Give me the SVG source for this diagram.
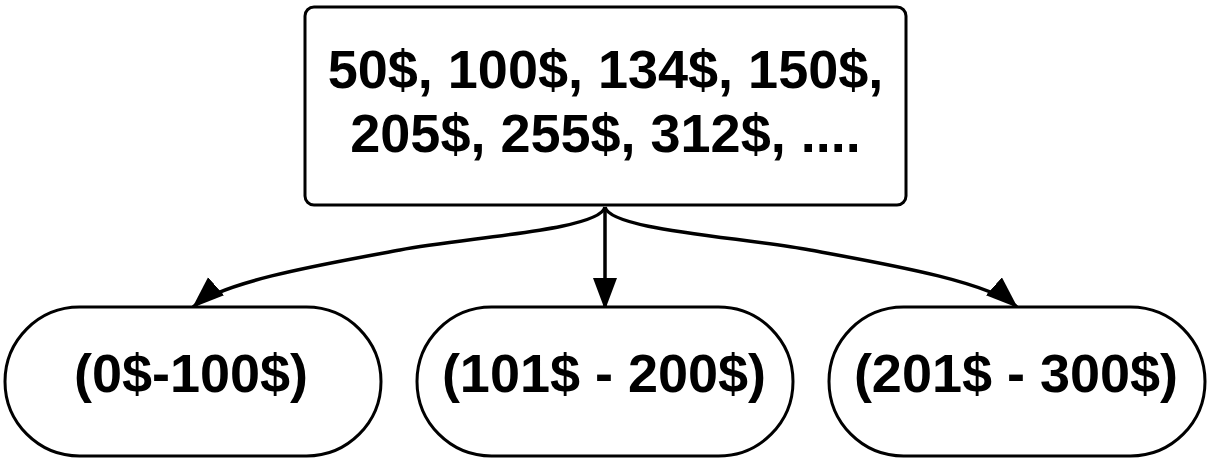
<svg xmlns="http://www.w3.org/2000/svg" width="1212" height="465" viewBox="0 0 1212 465">
  <style>
    .box { fill: #ffffff; stroke: #000000; stroke-width: 3; }
    .lbl { font-family: "Liberation Sans", Arial, sans-serif; font-weight: bold; font-size: 54px; fill: #000000; text-anchor: middle; }
    .edge { fill: none; stroke: #000000; stroke-width: 3.5; marker-end: url(#arrow); }
  </style>
  <defs>
    <marker id="arrow" markerUnits="userSpaceOnUse" markerWidth="34" markerHeight="26" refX="31" refY="12" orient="auto">
      <path d="M0,0 L32,12 L0,24 Z" fill="#000000"/>
    </marker>
  </defs>
  <rect width="1212" height="465" fill="#ffffff"/>
  <g id="connectors">
    <path class="edge" d="M605,207 L605,309"/>
    <path class="edge" d="M605,207 C600,230 470,237 400,250 S 222,281 193,307"/>
    <path class="edge" d="M605,207 C610,230 740,237 810,250 S 988,281 1017,307"/>
  </g>
  <g id="node-values">
    <rect class="box" x="305" y="7" width="601" height="198" rx="9" ry="9"/>
    <text class="lbl" x="605.5" y="88">50$, 100$, 134$, 150$,</text>
    <text class="lbl" x="605.5" y="152">205$, 255$, 312$, ....</text>
  </g>
  <g id="node-range1">
    <rect class="box" x="5" y="307" width="376" height="149" rx="74.5" ry="74.5"/>
    <text class="lbl" x="191" y="392">(0$-100$)</text>
  </g>
  <g id="node-range2">
    <rect class="box" x="417" y="307" width="376" height="149" rx="74.5" ry="74.5"/>
    <text class="lbl" x="604" y="392">(101$ - 200$)</text>
  </g>
  <g id="node-range3">
    <rect class="box" x="829" y="307" width="376" height="149" rx="74.5" ry="74.5"/>
    <text class="lbl" x="1016" y="392">(201$ - 300$)</text>
  </g>
</svg>
